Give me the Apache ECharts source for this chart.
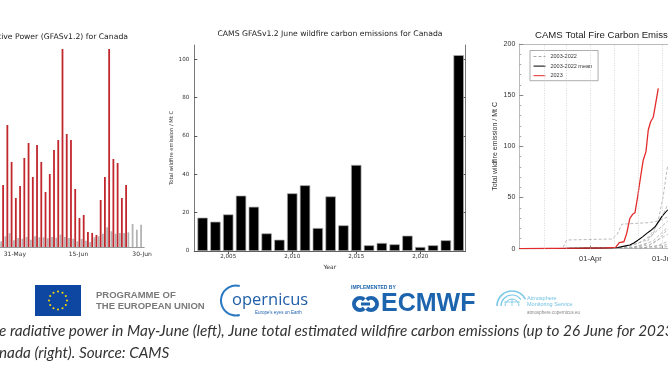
<!DOCTYPE html>
<html>
<head>
<meta charset="utf-8">
<script src="https://cdn.jsdelivr.net/npm/echarts@6.0.0/dist/echarts.min.js"></script>
<style>
html, body { margin: 0; padding: 0; background: #fff; }
#chart { width: 668px; height: 376px; }
</style>
</head>
<body>
<div id="chart"></div>
<script>
// left panel: daily FRP (only the visible days)
const frpDays = ['28-May','29-May','30-May','31-May','01-Jun','02-Jun','03-Jun','04-Jun','05-Jun','06-Jun',
  '07-Jun','08-Jun','09-Jun','10-Jun','11-Jun','12-Jun','13-Jun','14-Jun','15-Jun','16-Jun','17-Jun',
  '18-Jun','19-Jun','20-Jun','21-Jun','22-Jun','23-Jun','24-Jun','25-Jun','26-Jun','27-Jun','28-Jun',
  '29-Jun','30-Jun'];
const frpTickLabels = ['31-May', '15-Jun', '30-Jun'];
const frp2023 = [62, 122, 85, 49, 61, 89, 104, 70, 102, 85, 55, 73, 97, 107, 198, 113, 107, 58, 29, 32,
  15, 14, 12, 47, 70, 198, 88, 84, 49, 62, null, null, null, null];
const frpMean = [5.7, 10.7, 13.7, 6.7, 9, 8.3, 10, 7.3, 10.7, 9.7, 9.7, 8.7, 10, 9.3, 12.3, 10, 9, 8.3,
  5.7, 8, 6.3, 5, 9.7, 10.7, 13.3, 19.7, 15.7, 13.3, 14, 14, 14.7, 23, 17.3, 22.3];

// middle panel: June emissions per year (Mt C)
const years = [2003, 2004, 2005, 2006, 2007, 2008, 2009, 2010, 2011, 2012, 2013, 2014, 2015, 2016, 2017,
  2018, 2019, 2020, 2021, 2022, 2023];
const juneEmission = [17.4, 15.3, 19.1, 28.9, 23.1, 9.2, 5.9, 30.1, 34.3, 12, 28.5, 13.4, 44.9, 3, 4.2,
  3.5, 8, 2.1, 3, 5.6, 102.2];
const yearTicks = [2005, 2010, 2015, 2020];
const juneTicks = [0, 20, 40, 60, 80, 100];

// right panel: cumulative emissions, [day of year, Mt C]
const monthStarts = [31, 59, 90, 120, 151, 181];
const dateTicks = [90, 181];
const dateTickLabels = ['01-Apr', '01-Jul'];
const cum2023 = [[0, 0], [40, 0.3], [80, 0.6], [110, 0.9], [122, 1.2], [124, 2.5], [126.6, 5.9],
  [132.5, 6.8], [136, 15], [140, 29.7], [143.5, 33.6], [146.5, 35.2], [150, 51.5], [153.6, 70.3],
  [157, 86.7], [160.4, 94.8], [163.3, 116], [166.3, 124], [169.6, 128.4], [172.7, 142], [176, 156.7]];
const cumMean = [[0, 0], [60, 0.3], [90, 0.6], [120, 0.9], [125, 1.2], [133, 2.5], [140, 3.6],
  [145, 5.5], [150.7, 8.5], [156, 11.5], [161.4, 15], [166, 17.5], [171.9, 21.5], [176, 26],
  [180.4, 31.3], [185.8, 36.1], [188, 38]];
const cumPast = [
  [[0, 0], [55, 0], [57, 4], [60, 8.5], [118, 9.5], [124, 14], [130, 24], [165, 25.5], [175, 27], [188, 31]],
  [[0, 0], [140, 0.5], [160, 5], [170, 15], [176, 28], [182, 50], [188, 82]],
  [[0, 0], [130, 0.5], [150, 5], [165, 12], [180, 30], [188, 43]],
  [[0, 0], [130, 0.3], [155, 3], [170, 8], [188, 21]],
  [[0, 0], [140, 0.3], [165, 4], [188, 14]],
  [[0, 0], [150, 0.3], [175, 3], [188, 7]],
  [[0, 0], [150, 0.2], [188, 4]],
  [[0, 0], [160, 0.3], [188, 2]],
  [[0, 0], [120, 0.5], [140, 3], [160, 8], [175, 18], [188, 27]],
  [[0, 0], [160, 1], [175, 8], [188, 19]]
];

const chart = echarts.init(document.getElementById('chart'));

const dv = 'DejaVu Sans';
const lib = 'Liberation Sans';

const pastSeries = cumPast.map(d => ({
  name: '2003-2022', type: 'line', xAxisIndex: 3, yAxisIndex: 3, data: d,
  symbol: 'none', silent: true, z: 2,
  lineStyle: { color: '#a8a8a8', width: 0.8, type: [3, 2] }
}));

// EU flag stars
const stars = [];
for (let k = 0; k < 12; k++) {
  const a = k * Math.PI / 6;
  stars.push({ type: 'circle', shape: { cx: 58 + 9 * Math.cos(a), cy: 300.5 + 9 * Math.sin(a), r: 1 },
    style: { fill: '#ffdd00' } });
}

chart.setOption({
  animation: false,
  backgroundColor: '#fff',
  grid: [
    { left: 0, top: 47, width: 144.2, height: 200, outerBoundsMode: 'none' },
    { left: 194.3, top: 45, width: 271, height: 206, outerBoundsMode: 'none' },
    { left: 519.3, top: 44, width: 148.7, height: 204.7, outerBoundsMode: 'none' }
  ],
  legend: {
    data: ['2003-2022', '2003-2022 mean', '2023'],
    orient: 'vertical', left: 530, top: 50.5,
    itemWidth: 12, itemHeight: 6, itemGap: 2.6,
    padding: [2.5, 6, 1.5, 3],
    borderColor: '#777', borderWidth: 0.6, backgroundColor: '#fff',
    itemStyle: { opacity: 0 },
    lineStyle: { width: 1 },
    textStyle: { fontFamily: lib, fontSize: 5.5, color: '#333', lineHeight: 7 }
  },
  xAxis: [
    {
      gridIndex: 0, type: 'category', data: frpDays,
      axisLine: { lineStyle: { color: '#999', width: 1 } },
      axisTick: { alignWithLabel: true, interval: (i, v) => frpTickLabels.includes(v), length: 3,
        lineStyle: { color: '#555' } },
      axisLabel: { interval: (i, v) => frpTickLabels.includes(v), fontFamily: dv, fontSize: 6,
        color: '#333', margin: 4 }
    },
    {
      gridIndex: 1, type: 'value', min: 2002.35, max: 2023.52,
      name: 'Year', nameLocation: 'middle', nameGap: 12,
      nameTextStyle: { fontFamily: dv, fontSize: 6, color: '#333' },
      axisLine: { lineStyle: { color: '#555', width: 0.8 } },
      axisTick: { inside: true, length: 3, customValues: yearTicks, lineStyle: { color: '#555' } },
      axisLabel: { customValues: yearTicks, fontFamily: dv, fontSize: 5.6, color: '#333', margin: 3 },
      splitLine: { show: false }
    },
    {
      gridIndex: 1, type: 'value', position: 'top', min: 2002.35, max: 2023.52,
      axisLine: { lineStyle: { color: '#555', width: 0.8 } },
      axisTick: { inside: true, length: 3, customValues: yearTicks, lineStyle: { color: '#555' } },
      axisLabel: { show: false }, splitLine: { show: false }
    },
    {
      gridIndex: 2, type: 'value', min: 0, max: 188.3,
      axisLine: { lineStyle: { color: '#aaa', width: 0.8 } },
      axisTick: { inside: true, length: 3, customValues: dateTicks, lineStyle: { color: '#888' } },
      axisLabel: { customValues: dateTicks, formatter: v => dateTickLabels[dateTicks.indexOf(v)],
        fontFamily: lib, fontSize: 7.5, color: '#333', margin: 6 },
      splitLine: { show: false }
    },
    {
      gridIndex: 2, type: 'value', position: 'top', min: 0, max: 188.3,
      axisLine: { lineStyle: { color: '#aaa', width: 0.8 } },
      axisTick: { show: false }, axisLabel: { show: false }, splitLine: { show: false }
    }
  ],
  yAxis: [
    { gridIndex: 0, type: 'value', min: 0, max: 200, show: false },
    {
      gridIndex: 1, type: 'value', min: 0, max: 107.5,
      name: 'Total wildfire emission / Mt C', nameLocation: 'middle', nameGap: 20,
      nameTextStyle: { fontFamily: dv, fontSize: 5.2, color: '#333' },
      axisLine: { show: true, lineStyle: { color: '#555', width: 0.8 } },
      axisTick: { show: true, inside: true, length: 3, customValues: juneTicks, lineStyle: { color: '#555' } },
      axisLabel: { customValues: juneTicks, fontFamily: dv, fontSize: 5.6, color: '#333', margin: 5 },
      splitLine: { show: false }
    },
    {
      gridIndex: 1, type: 'value', position: 'right', min: 0, max: 107.5,
      axisLine: { show: true, lineStyle: { color: '#555', width: 0.8 } },
      axisTick: { show: true, inside: true, length: 3, customValues: juneTicks, lineStyle: { color: '#555' } },
      axisLabel: { show: false }, splitLine: { show: false }
    },
    {
      gridIndex: 2, type: 'value', min: 0, max: 200, interval: 50,
      name: 'Total wildfire emission / Mt C', nameLocation: 'middle', nameGap: 21,
      nameTextStyle: { fontFamily: lib, fontSize: 7, color: '#333' },
      axisLine: { show: true, lineStyle: { color: '#aaa', width: 0.8 } },
      axisTick: { show: true, inside: true, length: 4, lineStyle: { color: '#888' } },
      minorTick: { show: true, splitNumber: 5, length: 2, lineStyle: { color: '#aaa' } },
      axisLabel: { fontFamily: lib, fontSize: 7, color: '#333', margin: 4 },
      splitLine: { show: false }
    }
  ],
  series: [
    { type: 'bar', xAxisIndex: 0, yAxisIndex: 0, data: frpMean, barWidth: 1.8, barGap: '10%',
      itemStyle: { color: '#b4b4b4' }, silent: true },
    { type: 'bar', xAxisIndex: 0, yAxisIndex: 0, data: frp2023, barWidth: 1.8,
      itemStyle: { color: '#c1272d' }, silent: true },
    { type: 'bar', xAxisIndex: 1, yAxisIndex: 1, data: years.map((y, i) => [y, juneEmission[i]]),
      barWidth: 10.4, itemStyle: { color: '#000', borderColor: '#aaa', borderWidth: 0.7 }, silent: true },
    ...pastSeries,
    { name: '2003-2022 mean', type: 'line', xAxisIndex: 3, yAxisIndex: 3, data: cumMean,
      symbol: 'none', z: 3, lineStyle: { color: '#000', width: 1.1 },
      markLine: { silent: true, symbol: 'none', label: { show: false },
        lineStyle: { color: '#c8c8c8', type: [1, 1.5], width: 0.7 },
        data: monthStarts.map(d => ({ xAxis: d })) } },
    { name: '2023', type: 'line', xAxisIndex: 3, yAxisIndex: 3, data: cum2023,
      symbol: 'none', z: 4, lineStyle: { color: '#e32b2b', width: 1.3 } }
  ],
  graphic: [
    // panel titles
    { type: 'text', style: { text: 'Daily total Fire Radiative Power (GFASv1.2) for Canada', x: 128, y: 37,
      textAlign: 'right', textVerticalAlign: 'middle', font: '7.7px "DejaVu Sans"', fill: '#222' } },
    { type: 'text', style: { text: 'CAMS GFASv1.2 June wildfire carbon emissions for Canada', x: 330, y: 34,
      textAlign: 'center', textVerticalAlign: 'middle', font: '7.7px "DejaVu Sans"', fill: '#222' } },
    { type: 'text', style: { text: 'CAMS Total Fire Carbon Emissions for Canada', x: 535, y: 35,
      textAlign: 'left', textVerticalAlign: 'middle', font: '9.6px "Liberation Sans"', fill: '#222' } },
    // EU logo
    { type: 'rect', shape: { x: 35, y: 285, width: 46, height: 31 }, style: { fill: '#0e47a1' } },
    ...stars,
    { type: 'text', style: { text: 'PROGRAMME OF', x: 96, y: 295, textVerticalAlign: 'middle',
      font: 'bold 9.5px "Liberation Sans"', fill: '#7a7a7a' } },
    { type: 'text', style: { text: 'THE EUROPEAN UNION', x: 96, y: 306, textVerticalAlign: 'middle',
      font: 'bold 9.5px "Liberation Sans"', fill: '#7a7a7a' } },
    // Copernicus
    { type: 'arc', shape: { cx: 236, cy: 300.5, r: 15, startAngle: -Math.PI * 0.42, endAngle: Math.PI * 0.42,
      clockwise: false }, style: { stroke: '#2b79c2', lineWidth: 2, fill: null } },
    { type: 'text', style: { text: 'opernicus', x: 232, y: 300, textVerticalAlign: 'middle',
      font: '16.5px "Open Sans"', fill: '#1f5ea8' } },
    { type: 'text', style: { text: "Europe's eyes on Earth", x: 255, y: 313, textVerticalAlign: 'middle',
      font: '4.5px "Liberation Sans"', fill: '#1f5ea8' } },
    // ECMWF
    { type: 'text', style: { text: 'IMPLEMENTED BY', x: 351, y: 288, textVerticalAlign: 'middle',
      font: 'bold 5px "Liberation Sans"', fill: '#1c64ad' } },
    { type: 'arc', shape: { cx: 360, cy: 304, r: 6, startAngle: Math.PI * 0.25, endAngle: Math.PI * 1.75,
      clockwise: true }, style: { stroke: '#1c64ad', lineWidth: 4, fill: null } },
    { type: 'arc', shape: { cx: 371, cy: 304, r: 6, startAngle: Math.PI * 1.25, endAngle: Math.PI * 0.75,
      clockwise: true }, style: { stroke: '#1c64ad', lineWidth: 4, fill: null } },
    { type: 'rect', shape: { x: 361, y: 302.5, width: 9, height: 3 }, style: { fill: '#1c64ad' } },
    { type: 'text', style: { text: 'ECMWF', x: 381, y: 304.5, textVerticalAlign: 'middle',
      font: 'bold 25px "Liberation Sans"', fill: '#1c64ad' } },
    // Atmosphere Monitoring Service
    { type: 'arc', shape: { cx: 512, cy: 306, r: 15, startAngle: Math.PI, endAngle: Math.PI * 1.85, clockwise: true },
      style: { stroke: '#7cc7e6', lineWidth: 1.6, fill: null } },
    { type: 'arc', shape: { cx: 512, cy: 306, r: 11, startAngle: Math.PI, endAngle: Math.PI * 1.8, clockwise: true },
      style: { stroke: '#7cc7e6', lineWidth: 1.2, fill: null } },
    { type: 'arc', shape: { cx: 512, cy: 306, r: 7, startAngle: Math.PI, endAngle: Math.PI * 2, clockwise: true },
      style: { stroke: '#7cc7e6', lineWidth: 1, fill: null } },
    { type: 'line', shape: { x1: 504, y1: 302, x2: 520, y2: 302 }, style: { stroke: '#7cc7e6', lineWidth: 0.8 } },
    { type: 'line', shape: { x1: 512, y1: 299, x2: 512, y2: 306 }, style: { stroke: '#7cc7e6', lineWidth: 0.8 } },
    { type: 'text', style: { text: 'Atmosphere', x: 527, y: 298, textVerticalAlign: 'middle',
      font: '5.5px "Liberation Sans"', fill: '#74c2e2' } },
    { type: 'text', style: { text: 'Monitoring Service', x: 527, y: 304.5, textVerticalAlign: 'middle',
      font: '5.5px "Liberation Sans"', fill: '#74c2e2' } },
    { type: 'text', style: { text: 'atmosphere.copernicus.eu', x: 527, y: 313, textVerticalAlign: 'middle',
      font: '4.5px "Liberation Sans"', fill: '#888' } },
    // caption
    { type: 'text', style: { text: 'e radiative power in May-June (left), June total estimated wildfire carbon emissions (up to 26 June for 2023) and', x: -1, y: 331,
      textVerticalAlign: 'middle', font: 'italic 15.3px Lato', fill: '#333' } },
    { type: 'text', style: { text: 'nada (right). Source: CAMS', x: -1, y: 353,
      textVerticalAlign: 'middle', font: 'italic 15.3px Lato', fill: '#333' } }
  ]
});
</script>
</body>
</html>
